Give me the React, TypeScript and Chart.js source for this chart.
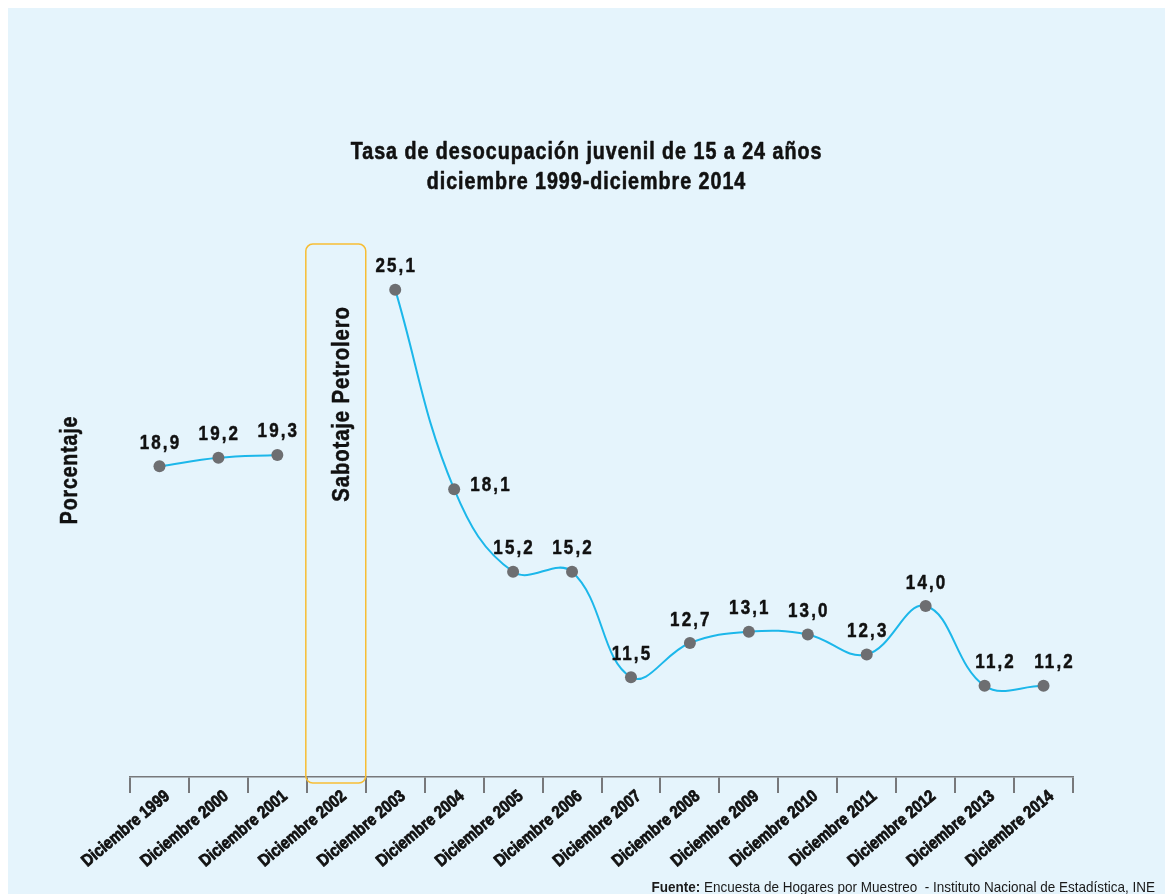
import React, { useEffect, useRef } from "react";
import { Chart, registerables } from "chart.js";

Chart.register(...registerables);

const categories: string[] = [
  "Diciembre 1999", "Diciembre 2000", "Diciembre 2001", "Diciembre 2002",
  "Diciembre 2003", "Diciembre 2004", "Diciembre 2005", "Diciembre 2006",
  "Diciembre 2007", "Diciembre 2008", "Diciembre 2009", "Diciembre 2010",
  "Diciembre 2011", "Diciembre 2012", "Diciembre 2013", "Diciembre 2014",
];
const rates: (number | null)[] = [
  18.9, 19.2, 19.3, null, 25.1, 18.1, 15.2, 15.2, 11.5, 12.7, 13.1, 13.0, 12.3, 14.0, 11.2, 11.2,
];
const labelPlacement: string[] = [
  "top", "top", "top", "none", "top", "right", "top", "top",
  "top", "top", "top", "top", "top", "top", "topRight", "topRight",
];
const titleLines: string[] = [
  "Tasa de desocupación juvenil de 15 a 24 años",
  "diciembre 1999-diciembre 2014",
];
const yAxisTitle = "Porcentaje";
const eventLabel = "Sabotaje Petrolero";
const eventIndex = 3;
const eventTopValue = 26.7;
const sourceBold = "Fuente:";
const sourceText = " Encuesta de Hogares por Muestreo  - Instituto Nacional de Estadística, INE";
const yMin = 8;
const yMax = 28;

const FONT = '"Liberation Sans", Arial, sans-serif';
const BG = "#e5f4fc";
const LINE = "#1cb7ea";
const POINT = "#6d6e71";
const BOX = "#f7bd34";
const TEXT = "#111111";

const fmt = (v: number) => v.toFixed(1).replace(".", ",");

type TxtOpts = {
  size: number;
  bold?: boolean;
  align?: CanvasTextAlign;
  baseline?: CanvasTextBaseline;
  rotate?: number;
  sx?: number;
  spacing?: number;
  color?: string;
  stroke?: number;
};

function drawText(ctx: CanvasRenderingContext2D, text: string, x: number, y: number, o: TxtOpts) {
  ctx.save();
  ctx.translate(x, y);
  if (o.rotate) ctx.rotate(o.rotate);
  ctx.scale(o.sx ?? 0.85, 1);
  ctx.font = `${o.bold === false ? "" : "bold "}${o.size}px ${FONT}`;
  (ctx as any).letterSpacing = `${o.spacing ?? 0}px`;
  ctx.textAlign = o.align ?? "center";
  ctx.textBaseline = o.baseline ?? "middle";
  ctx.fillStyle = o.color ?? TEXT;
  ctx.fillText(text, 0, 0);
  if (o.stroke) {
    ctx.strokeStyle = o.color ?? TEXT;
    ctx.lineWidth = o.stroke;
    ctx.lineJoin = "round";
    ctx.strokeText(text, 0, 0);
  }
  ctx.restore();
}

const overlayPlugin = {
  id: "overlay",
  beforeDatasetsDraw(chart: any) {
    const ctx = chart.ctx as CanvasRenderingContext2D;
    const xs = chart.scales.x;
    const ys = chart.scales.y;
    const cx = xs.getPixelForValue(eventIndex);
    const band = xs.getPixelForValue(1) - xs.getPixelForValue(0);
    const left = cx - band / 2 - 1;
    const right = cx + band / 2;
    const top = ys.getPixelForValue(eventTopValue);
    const bottom = chart.chartArea.bottom + 6;
    ctx.save();
    ctx.strokeStyle = BOX;
    ctx.lineWidth = 1.5;
    ctx.beginPath();
    (ctx as any).roundRect(left, top, right - left, bottom - top, 7);
    ctx.stroke();
    ctx.restore();
  },
  afterDraw(chart: any) {
    const ctx = chart.ctx as CanvasRenderingContext2D;
    const xs = chart.scales.x;
    const w = chart.width;
    const axisY = chart.chartArea.bottom;
    // title
    const tOpts: TxtOpts = { size: 24, spacing: 1.2, sx: 0.82, stroke: 0.6 };
    drawText(ctx, titleLines[0], w / 2, 144, tOpts);
    drawText(ctx, titleLines[1], w / 2, 174, tOpts);
    // y axis title
    drawText(ctx, yAxisTitle, 63, 462, { size: 23, spacing: 1, rotate: -Math.PI / 2, stroke: 0.5 });
    // event label
    drawText(ctx, eventLabel, xs.getPixelForValue(eventIndex) + 6, 396, {
      size: 24,
      spacing: 1,
      rotate: -Math.PI / 2,
      stroke: 0.5,
    });
    // x tick labels
    categories.forEach((c, i) => {
      const x = xs.getPixelForValue(i);
      drawText(ctx, c, x + 8, axisY + 17, {
        size: 17,
        sx: 0.87,
        spacing: 0,
        align: "right",
        rotate: (-40 * Math.PI) / 180,
        stroke: 0.8,
      });
    });
    // value labels
    const meta = chart.getDatasetMeta(0);
    rates.forEach((v, i) => {
      if (v == null) return;
      const p = meta.data[i];
      const place = labelPlacement[i];
      const o: TxtOpts = { size: 20, spacing: 2.5, stroke: 0.5 };
      if (place === "right") {
        drawText(ctx, fmt(v), p.x + 16, p.y - 4, { ...o, align: "left" });
      } else if (place === "topRight") {
        drawText(ctx, fmt(v), p.x + 11, p.y - 23, o);
      } else {
        drawText(ctx, fmt(v), p.x + 1, p.y - 23, o);
      }
    });
    // source
    const sx = 0.9;
    ctx.save();
    ctx.font = `15px ${FONT}`;
    const restW = ctx.measureText(sourceText).width * sx;
    ctx.font = `bold 15px ${FONT}`;
    const boldW = ctx.measureText(sourceBold).width * sx;
    ctx.restore();
    const xEnd = w - 10;
    const x0 = xEnd - restW - boldW;
    drawText(ctx, sourceBold, x0, 884, { size: 15, sx, align: "left", baseline: "alphabetic", color: "#1a1a1a" });
    drawText(ctx, sourceText, x0 + boldW, 884, {
      size: 15,
      sx,
      bold: false,
      align: "left",
      baseline: "alphabetic",
      color: "#1a1a1a",
    });
  },
};

export default function App() {
  const ref = useRef<HTMLCanvasElement | null>(null);
  useEffect(() => {
    if (!ref.current) return;
    const chart = new Chart(ref.current, {
      type: "line",
      data: {
        labels: categories,
        datasets: [
          {
            data: rates,
            borderColor: LINE,
            borderWidth: 2,
            tension: 0.4,
            spanGaps: false,
            pointRadius: 6,
            pointHoverRadius: 6,
            pointBackgroundColor: POINT,
            pointBorderColor: POINT,
            pointBorderWidth: 0,
            fill: false,
          },
        ],
      },
      options: {
        animation: false,
        responsive: true,
        maintainAspectRatio: false,
        layout: { padding: { top: 199, left: 122, right: 92, bottom: 17 } },
        plugins: {
          legend: { display: false },
          title: { display: false },
          tooltip: { enabled: false },
        },
        scales: {
          x: {
            offset: true,
            grid: {
              offset: true,
              drawOnChartArea: false,
              drawTicks: true,
              tickLength: 16,
              color: "#77787b",
              lineWidth: 2,
            },
            border: { color: "#77787b", width: 1.5 },
            ticks: { display: false, autoSkip: false },
            afterFit: (s: any) => {
              s.height = 100;
            },
          },
          y: { display: false, min: yMin, max: yMax },
        },
      },
      plugins: [overlayPlugin],
    } as any);
    return () => chart.destroy();
  }, []);
  return (
    <div
      style={{
        position: "fixed",
        left: 8,
        top: 8,
        width: 1157,
        height: 886,
        background: BG,
      }}
    >
      <canvas ref={ref} />
    </div>
  );
}
